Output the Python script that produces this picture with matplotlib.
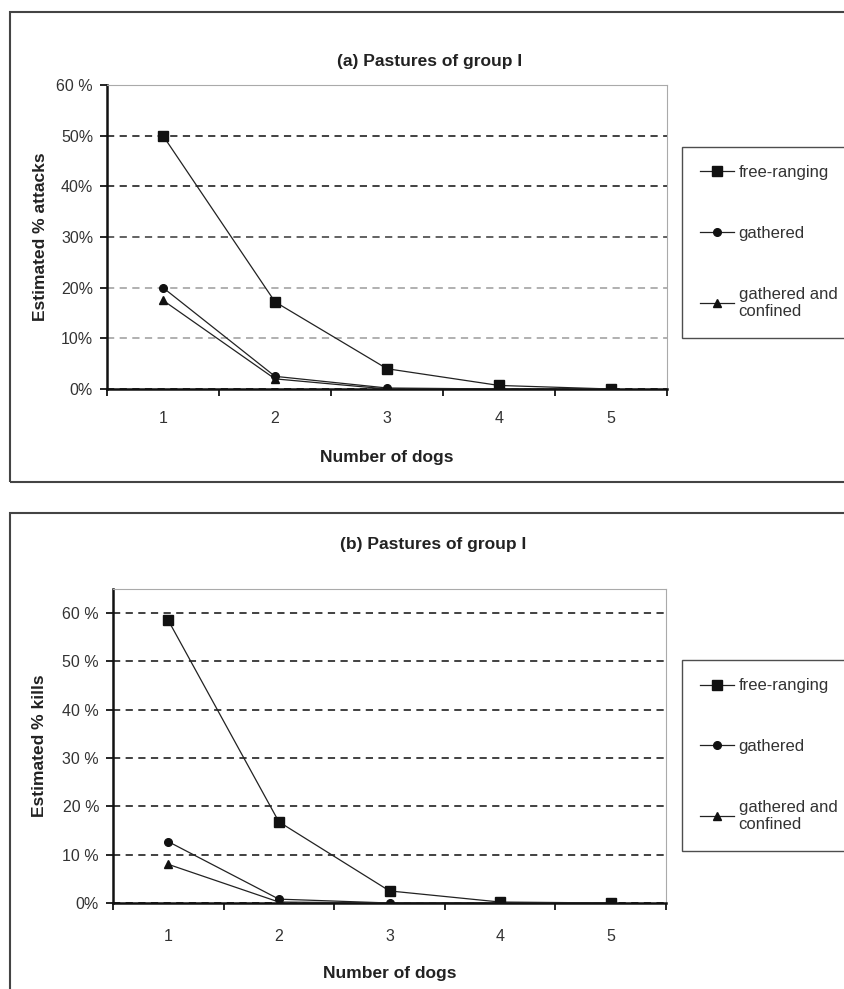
import matplotlib
matplotlib.use('Agg')
import matplotlib.pyplot as plt
from matplotlib.patches import Rectangle

plt.rcParams['font.family'] = ['Liberation Sans', 'DejaVu Sans']

# Daten
dogs = [1, 2, 3, 4, 5]
series_names = ['free-ranging', 'gathered', 'gathered and\nconfined']

# (a) attacks, in %
attacks_free = [50.0, 17.2, 4.0, 0.7, 0.0]
attacks_gathered = [20.0, 2.5, 0.2, 0.0, 0.0]
attacks_confined = [17.5, 2.0, 0.0, 0.0, 0.0]
attacks_ticklabels = ['0%', '10%', '20%', '30%', '40%', '50%', '60 %']

# (b) kills, in %
kills_free = [58.5, 16.8, 2.5, 0.2, 0.0]
kills_gathered = [12.7, 0.8, 0.0, 0.0, 0.0]
kills_confined = [8.0, 0.2, 0.0, 0.0, 0.0]
kills_ticklabels = ['0%', '10 %', '20 %', '30 %', '40 %', '50 %', '60 %']

W, H = 844, 989
fig = plt.figure(figsize=(W / 100, H / 100), dpi=100)


def fx(px):
    return px / W


def fy(py):
    return 1 - py / H


# outer frames of both panels
for top, bottom in [(12, 482), (513, 1010)]:
    fig.add_artist(Rectangle((fx(10), fy(bottom)), fx(860 - 10), (bottom - top) / H,
                             transform=fig.transFigure, fill=False,
                             edgecolor='#444444', linewidth=1.5, clip_on=False))


def draw_panel(ax, free, gathered, confined, ymax, ticklabels, ylabel, grid_colors,
               legend_top, legend_bottom, xpad):
    ax.plot(dogs, free, color='#222222', lw=0.9, marker='s', ms=6.5,
            mfc='#111111', mec='#111111', label=series_names[0], zorder=5)
    ax.plot(dogs, gathered, color='#222222', lw=0.9, marker='o', ms=5.5,
            mfc='#111111', mec='#111111', label=series_names[1], zorder=4)
    ax.plot(dogs, confined, color='#222222', lw=0.9, marker='^', ms=6,
            mfc='#111111', mec='#111111', label=series_names[2], zorder=3)

    ax.set_xlim(0.5, 5.5)
    ax.set_ylim(0, ymax)
    ax.set_yticks(range(0, 61, 10))
    ax.set_yticklabels(ticklabels, fontsize=11.5, color='#333333')
    ax.tick_params(axis='y', length=5, width=1.2, direction='out', pad=5)

    ax.set_xticks([0.5, 1.5, 2.5, 3.5, 4.5, 5.5])
    ax.set_xticklabels([])
    ax.set_xticks(dogs, minor=True)
    ax.set_xticklabels([str(d) for d in dogs], minor=True, fontsize=11.5, color='#333333')
    ax.tick_params(axis='x', which='major', length=5, width=1.2, direction='out')
    ax.tick_params(axis='x', which='minor', length=0, pad=xpad)

    ax.yaxis.grid(True, linestyle=(0, (4, 3)), linewidth=1.3)
    for gl, c in zip(ax.get_ygridlines(), grid_colors):
        gl.set_color(c)
    ax.set_axisbelow(True)

    ax.spines['left'].set_linewidth(1.8)
    ax.spines['left'].set_color('#111111')
    ax.spines['bottom'].set_linewidth(1.8)
    ax.spines['bottom'].set_color('#111111')
    ax.spines['top'].set_color('#aaaaaa')
    ax.spines['right'].set_color('#aaaaaa')

    ax.set_xlabel('Number of dogs', fontsize=12.5, fontweight='bold', color='#222222')
    ax.set_ylabel(ylabel, fontsize=12.5, fontweight='bold', color='#222222')

    leg = ax.legend(loc='upper left',
                    bbox_to_anchor=(fx(682), fy(legend_bottom), fx(900 - 682),
                                    (legend_bottom - legend_top) / H),
                    bbox_transform=fig.transFigure, mode='expand',
                    fontsize=12, frameon=True, fancybox=False, edgecolor='#222222',
                    borderaxespad=0, borderpad=1.1, labelspacing=2.75,
                    handlelength=2.0, handletextpad=0.3)
    leg.get_frame().set_linewidth(1.0)
    for t in leg.get_texts():
        t.set_color('#333333')
    return leg


# (a)
ax1 = fig.add_axes([fx(107), fy(389), fx(667 - 107), (389 - 85) / H])
draw_panel(ax1, attacks_free, attacks_gathered, attacks_confined, 60,
           attacks_ticklabels, 'Estimated % attacks',
           ['#222222', '#aaaaaa', '#aaaaaa', '#555555', '#333333', '#333333', '#aaaaaa'],
           147, 339, 16)
ax1.xaxis.set_label_coords(0.5, -0.2)
ax1.yaxis.set_label_coords(-0.105, 0.5)
fig.text(fx(430), fy(62), '(a) Pastures of group I', ha='center', va='center',
         fontsize=12.5, fontweight='bold', color='#222222')

# (b)
ax2 = fig.add_axes([fx(113), fy(903), fx(666 - 113), (903 - 589) / H])
draw_panel(ax2, kills_free, kills_gathered, kills_confined, 65,
           kills_ticklabels, 'Estimated % kills',
           ['#111111'] + ['#333333'] * 6,
           660, 848, 19)
ax2.xaxis.set_label_coords(0.5, -0.2)
ax2.yaxis.set_label_coords(-0.12, 0.5)
fig.text(fx(433), fy(545), '(b) Pastures of group I', ha='center', va='center',
         fontsize=12.5, fontweight='bold', color='#222222')

plt.savefig('out.png', dpi=100)
